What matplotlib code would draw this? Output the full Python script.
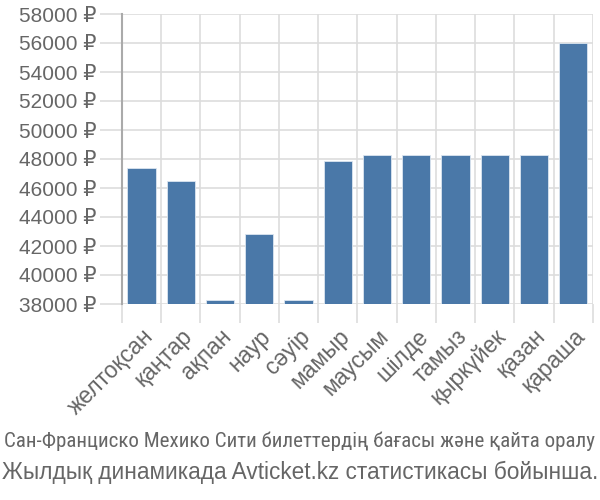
import matplotlib
matplotlib.use("Agg")
import matplotlib.pyplot as plt
import matplotlib.transforms as mtransforms

months = ["желтоқсан", "қаңтар", "ақпан", "наур", "сәуір", "мамыр",
          "маусым", "шілде", "тамыз", "қыркүйек", "қазан", "қараша"]
prices = [47400, 46500, 38300, 42850, 38300, 47850,
          48300, 48300, 48300, 48300, 48300, 56000]
y_ticks = list(range(38000, 58001, 2000))

title_line1 = "Сан-Франциско Мехико Сити билеттердің бағасы және қайта оралу"
title_line2 = "Жылдық динамикада Avticket.kz статистикасы бойынша."

fonts = ["Liberation Sans", "DejaVu Sans"]
narrow_fonts = ["Liberation Sans Narrow", "Roboto Condensed", "Liberation Sans", "DejaVu Sans"]
text_color = "#666666"
grid_color = "#dddddd"

fig = plt.figure(figsize=(6, 5), dpi=100)
ax = fig.add_axes([0.203, 0.392, 0.785, 0.58])

x = list(range(len(months)))
ax.bar(x, [p - 38000 for p in prices], bottom=38000, width=0.72,
       color="#4a78a8", edgecolor="#dce6f0", linewidth=0.6, zorder=3)

ax.set_xlim(-0.5, len(months) - 0.5)
ax.set_ylim(38000, 58000)
ax.set_yticks(y_ticks)
ax.set_yticklabels([f"{v} ₽" for v in y_ticks], family=fonts,
                   fontsize=15, color=text_color)

# vertical grid between categories, labels at bar centres
ax.set_xticks([i - 0.5 for i in range(len(months) + 1)], minor=False)
ax.set_xticklabels([""] * (len(months) + 1))
ax.set_xticks(x, minor=True)
ax.set_xticklabels(months, minor=True, rotation=45, ha="right", rotation_mode="anchor",
                   fontsize=16.5, color=text_color, family=fonts)
shift = mtransforms.ScaledTranslation(1 / 100, 0, fig.dpi_scale_trans)
for lab in ax.get_xticklabels(minor=True):
    lab.set_transform(lab.get_transform() + shift)
ax.tick_params(axis="x", which="minor", length=0, pad=15)
ax.tick_params(axis="x", which="major", length=14, color=grid_color, width=1.2)
ax.tick_params(axis="y", length=16, color=grid_color, width=1.2, pad=2)

ax.grid(True, which="major", color=grid_color, linewidth=1.2, zorder=0)
for s in ["top", "right", "bottom"]:
    ax.spines[s].set_visible(False)
ax.spines["left"].set_color("#aaaaaa")
ax.spines["left"].set_linewidth(1.5)
ax.spines["left"].set_bounds(38000, 58000)

t1 = fig.text(0.5, 0.118, title_line1, ha="center", va="center", fontsize=15,
              color=text_color, family=narrow_fonts)
t2 = fig.text(0.5, 0.056, title_line2, ha="center", va="center", fontsize=15,
              color=text_color, family=fonts)

# fit both caption lines to the figure width
fig.canvas.draw()
renderer = fig.canvas.get_renderer()
for t, target in [(t1, 594), (t2, 598)]:
    w = t.get_window_extent(renderer).width
    t.set_fontsize(15 * target / w)

fig.savefig("out.png", dpi=100)
